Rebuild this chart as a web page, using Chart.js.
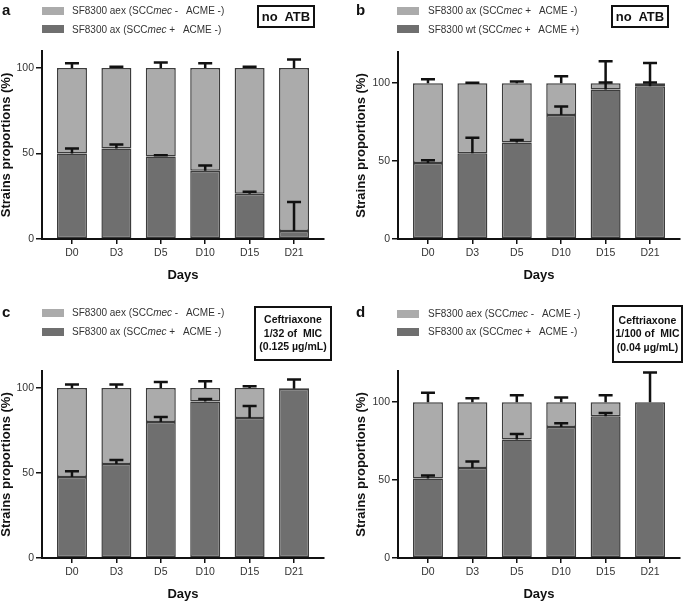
<!DOCTYPE html>
<html>
<head>
<meta charset="utf-8">
<script src="https://cdn.jsdelivr.net/npm/chart.js@4.4.1/dist/chart.umd.min.js"></script>
<style>
  body { margin: 0; background: #fff; }
  #fig { position: relative; width: 685px; height: 601px; background: #fff; overflow: hidden;
         font-family: 'Liberation Sans', Arial, sans-serif; color: #333; }
  #fig canvas { position: absolute; }
  .lt { position: absolute; font-weight: bold; font-size: 15px; line-height: 15px; color: #111; }
  .sw { position: absolute; width: 22px; height: 8px; }
  .lg { position: absolute; font-size: 10px; line-height: 12px; white-space: pre; }
  .box { position: absolute; border: 2px solid #111; box-sizing: border-box; color: #111; font-weight: bold;
         text-align: center; display: flex; flex-direction: column; justify-content: center; }
</style>
</head>
<body>
<div id="fig">
  <canvas id="ca" width="342" height="300" style="left:0;top:0"></canvas>
  <canvas id="cb" width="342" height="300" style="left:343px;top:0"></canvas>
  <canvas id="cc" width="342" height="301" style="left:0;top:300px"></canvas>
  <canvas id="cd" width="342" height="301" style="left:343px;top:300px"></canvas>

  <div class="lt" style="left:2px;top:2px">a</div>
  <div class="sw" style="left:42px;top:7px;background:#ababab"></div>
  <div class="lg" style="left:72px;top:5px">SF8300 aex (SCC<i>mec</i> -   ACME -)</div>
  <div class="sw" style="left:42px;top:25px;background:#6f6f6f"></div>
  <div class="lg" style="left:72px;top:24px">SF8300 ax (SCC<i>mec</i> +   ACME -)</div>
  <div class="box" style="left:257px;top:5px;width:58px;height:23px;font-size:13px">no&nbsp; ATB</div>

  <div class="lt" style="left:356px;top:2px">b</div>
  <div class="sw" style="left:397px;top:7px;background:#ababab"></div>
  <div class="lg" style="left:428px;top:5px">SF8300 ax (SCC<i>mec</i> +   ACME -)</div>
  <div class="sw" style="left:397px;top:25px;background:#6f6f6f"></div>
  <div class="lg" style="left:428px;top:24px">SF8300 wt (SCC<i>mec</i> +   ACME +)</div>
  <div class="box" style="left:611px;top:5px;width:58px;height:23px;font-size:13px">no&nbsp; ATB</div>

  <div class="lt" style="left:2px;top:304px">c</div>
  <div class="sw" style="left:42px;top:309px;background:#ababab"></div>
  <div class="lg" style="left:72px;top:307px">SF8300 aex (SCC<i>mec</i> -   ACME -)</div>
  <div class="sw" style="left:42px;top:328px;background:#6f6f6f"></div>
  <div class="lg" style="left:72px;top:326px">SF8300 ax (SCC<i>mec</i> +   ACME -)</div>
  <div class="box" style="left:254px;top:306px;width:78px;height:55px;font-size:10.5px;line-height:13.5px">
    <div>Ceftriaxone</div><div>1/32 of&nbsp; MIC</div><div>(0.125 µg/mL)</div></div>

  <div class="lt" style="left:356px;top:304px">d</div>
  <div class="sw" style="left:397px;top:310px;background:#ababab"></div>
  <div class="lg" style="left:428px;top:308px">SF8300 aex (SCC<i>mec</i> -   ACME -)</div>
  <div class="sw" style="left:397px;top:328px;background:#6f6f6f"></div>
  <div class="lg" style="left:428px;top:326px">SF8300 ax (SCC<i>mec</i> +   ACME -)</div>
  <div class="box" style="left:612px;top:305px;width:71px;height:58px;font-size:10.5px;line-height:13.5px">
    <div>Ceftriaxone</div><div>1/100 of&nbsp; MIC</div><div>(0.04 µg/mL)</div></div>
</div>

<script>
// days on the x axis, y tick values
const days = ['D0', 'D3', 'D5', 'D10', 'D15', 'D21'];
const yTicks = [0, 50, 100];

// a: no ATB, aex vs ax
const aDark = [50, 53, 48.2, 40, 26.5, 4.7];
const aDarkErr = [3, 2.3, 0.8, 3, 1.1, 17];
const aLight = [50, 47, 51.8, 60, 73.5, 95.3];
const aLightErr = [2.8, 0.8, 3.2, 2.8, 0.8, 5];

// b: no ATB, ax vs wt
const bDark = [48.7, 55, 62, 79.5, 96, 98];
const bDarkErr = [1.9, 10, 1.5, 5.5, 18, 15];
const bLight = [51.3, 45, 38, 20.5, 4, 2];
const bLightErr = [2.5, 0.3, 1, 4.5, 0.5, 0.5];

// c: ceftriaxone 1/32 MIC
const cDark = [47.6, 55.3, 80, 92, 82.4, 99.5];
const cDarkErr = [3.4, 2.3, 3, 1.5, 7, 5.5];
const cLight = [52.4, 44.7, 20, 8, 17.6, 0.5];
const cLightErr = [2, 2, 3.5, 4, 1, 0];

// d: ceftriaxone 1/100 MIC
const dDark = [51, 57.7, 76, 84, 91, 100];
const dDarkErr = [2, 4.3, 3.5, 2.5, 2, 19];
const dLight = [49, 42.3, 24, 16, 9, 0];
const dLightErr = [6, 2.5, 4.5, 3, 4.5, 0];

const LIGHT = '#ababab', DARK = '#6f6f6f', EDGE = '#3c3c3c', INK = '#111';
const FONT = "'Liberation Sans', Arial, sans-serif";

// upper-only error bars, drawn from the top of each stacked segment
const errorBars = {
  id: 'errorBars',
  afterDatasetsDraw(chart) {
    const ctx = chart.ctx, y = chart.scales.y;
    ctx.save();
    ctx.strokeStyle = INK;
    ctx.lineWidth = 2.5;
    chart.data.datasets.forEach((ds, k) => {
      chart.getDatasetMeta(k).data.forEach((bar, i) => {
        const e = ds.errors[i];
        if (!e) return;
        const yc = y.getPixelForValue(y.getValueForPixel(bar.y) + e);
        ctx.beginPath();
        ctx.moveTo(bar.x, bar.y);
        ctx.lineTo(bar.x, yc);
        ctx.moveTo(bar.x - 7, yc);
        ctx.lineTo(bar.x + 7, yc);
        ctx.stroke();
      });
    });
    ctx.restore();
  }
};

function makeChart(id, dark, darkErr, light, lightErr, darkLabel, lightLabel, yMax, g) {
  const axisGrid = { drawOnChartArea: false, drawTicks: true, tickLength: 6, color: INK, lineWidth: 1.5, offset: false };
  return new Chart(document.getElementById(id), {
    type: 'bar',
    data: {
      labels: days.map((d, i) => i),
      datasets: [
        { label: darkLabel, data: dark, errors: darkErr, backgroundColor: DARK },
        { label: lightLabel, data: light, errors: lightErr, backgroundColor: LIGHT }
      ]
    },
    options: {
      responsive: false,
      animation: false,
      layout: { padding: { left: 0, top: g.top, right: g.right, bottom: 0 } },
      plugins: { legend: { display: false }, tooltip: { enabled: false } },
      datasets: {
        bar: { categoryPercentage: 1, barPercentage: 0.675, borderWidth: 1.5, borderColor: EDGE, borderSkipped: false }
      },
      scales: {
        x: {
          type: 'linear', stacked: true, offset: false, min: -0.675, max: days.length - 0.325,
          afterBuildTicks: s => { s.ticks = days.map((d, i) => ({ value: i })); },
          afterFit: s => { s.height = g.xh; },
          ticks: { callback: v => days[v], color: '#333', padding: 3, maxRotation: 0, autoSkip: false,
                   font: { family: FONT, size: 10.5 } },
          grid: Object.assign({}, axisGrid, { tickLength: 5 }),
          border: { color: INK, width: 2 },
          title: { display: true, text: 'Days', color: INK, padding: { top: 0, bottom: g.xt },
                   font: { family: FONT, size: 13, weight: 'bold', lineHeight: 1 } }
        },
        y: {
          stacked: true, min: 0, max: yMax,
          afterBuildTicks: s => { s.ticks = yTicks.map(v => ({ value: v })); },
          afterFit: s => { s.width = g.yw; },
          ticks: { color: '#333', padding: 2, font: { family: FONT, size: 10.5 } },
          grid: axisGrid,
          border: { color: INK, width: 2 },
          title: { display: true, text: 'Strains proportions (%)', color: INK, padding: { top: g.yt, bottom: 0 },
                   font: { family: FONT, size: 13, weight: 'bold', lineHeight: 1 } }
        }
      }
    },
    plugins: [errorBars]
  });
}

makeChart('ca', aDark, aDarkErr, aLight, aLightErr, 'SF8300 ax', 'SF8300 aex', 110,
  { top: 51, right: 18, yw: 42, xh: 61, xt: 18.5, yt: 0 });
makeChart('cb', bDark, bDarkErr, bLight, bLightErr, 'SF8300 wt', 'SF8300 ax', 120,
  { top: 52, right: 5, yw: 55, xh: 61, xt: 18.5, yt: 11.5 });
makeChart('cc', cDark, cDarkErr, cLight, cLightErr, 'SF8300 ax', 'SF8300 aex', 110,
  { top: 71, right: 18, yw: 42, xh: 43, xt: 0, yt: 0 });
makeChart('cd', dDark, dDarkErr, dLight, dLightErr, 'SF8300 ax', 'SF8300 aex', 120,
  { top: 71, right: 5, yw: 55, xh: 43, xt: 0, yt: 12 });
</script>
</body>
</html>
